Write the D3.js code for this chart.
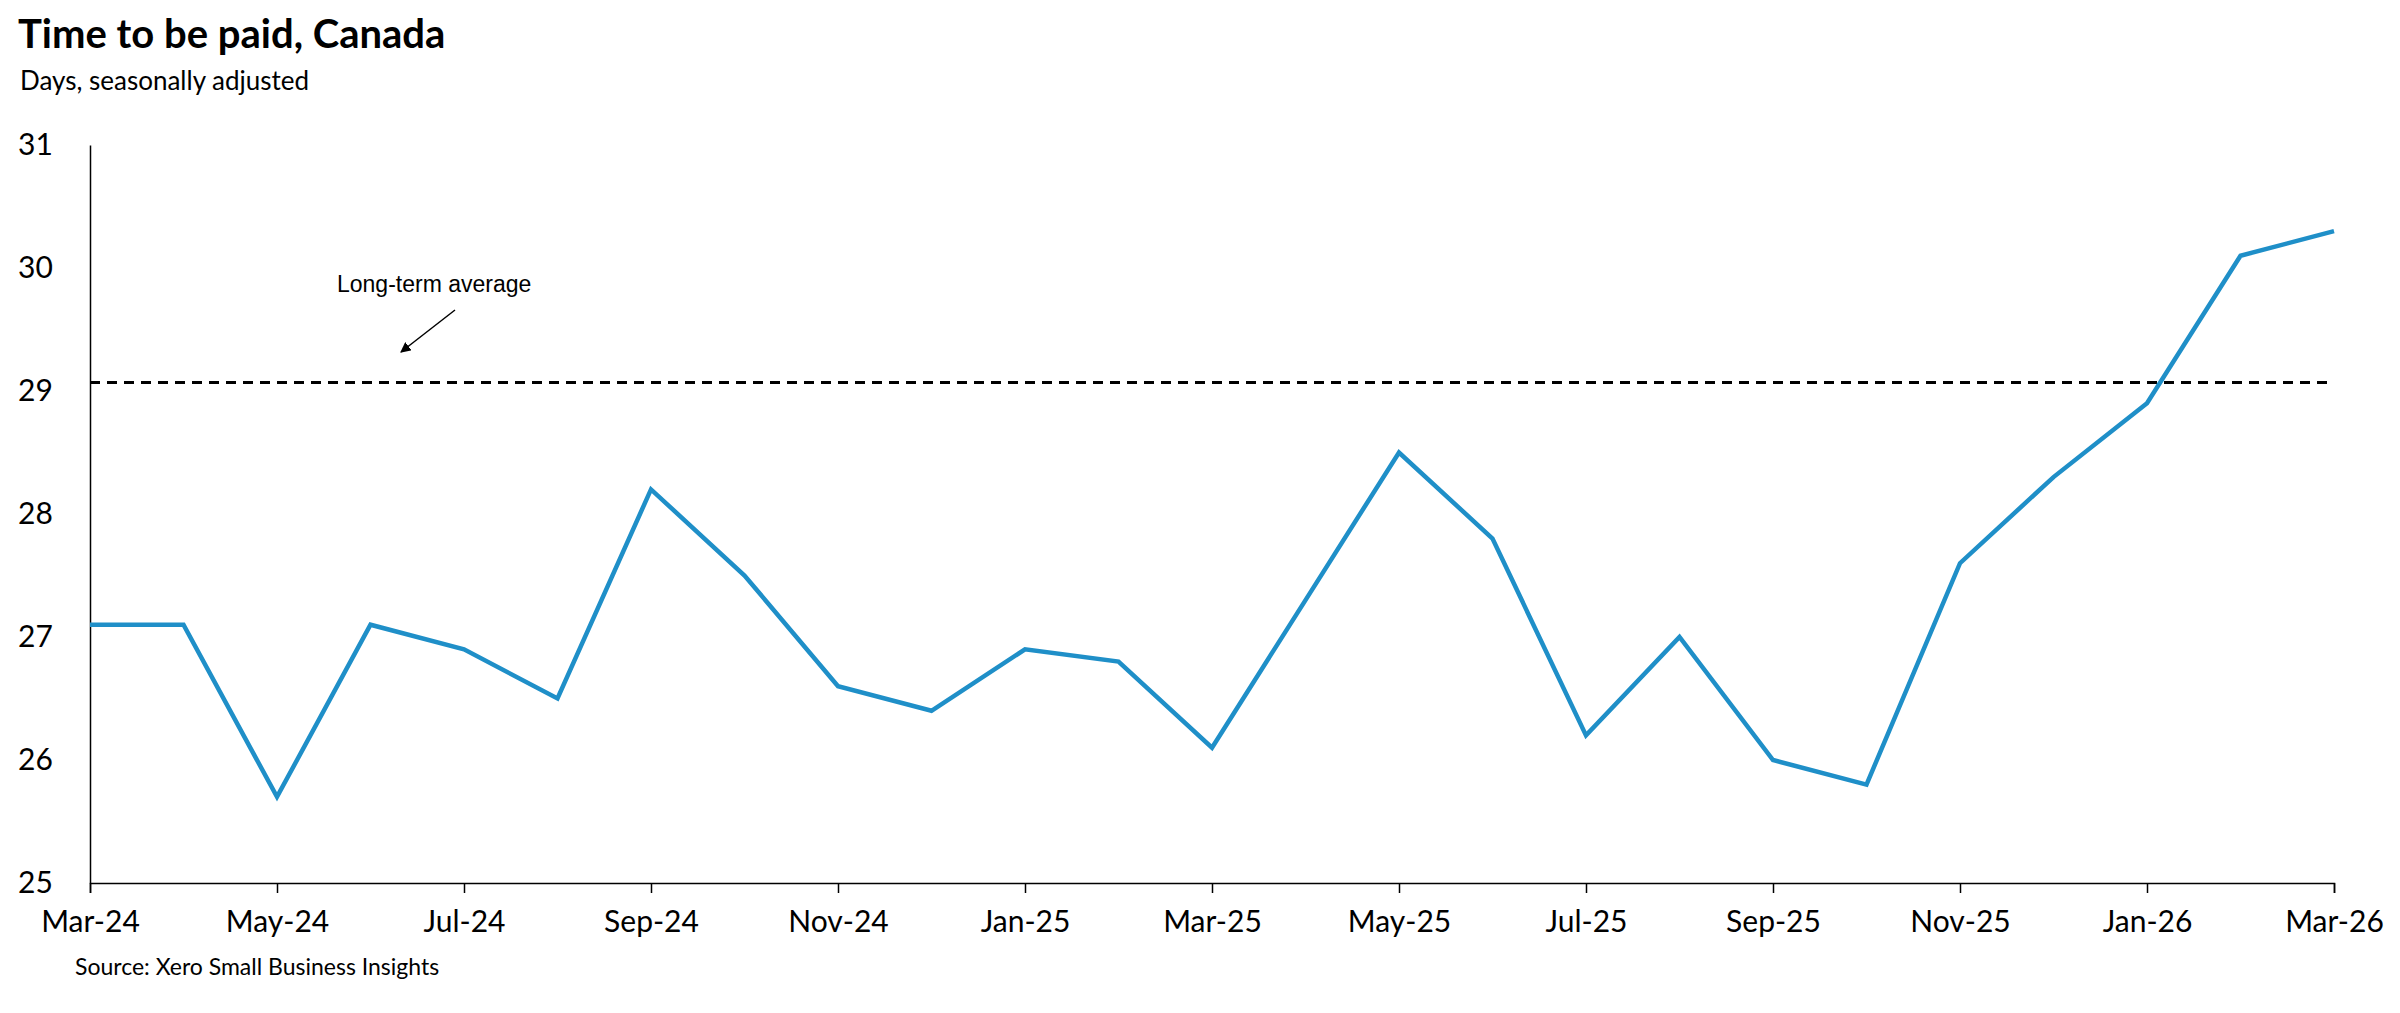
<!DOCTYPE html>
<html>
<head>
<meta charset="utf-8">
<script src="https://cdn.jsdelivr.net/npm/d3@7"></script>
<style>
  body { margin: 0; background: #fff; }
  text { fill: #000; }
</style>
</head>
<body>
<svg id="chart" width="2400" height="1013"></svg>
<script>
// monthly data, Mar-24 .. Mar-26
const months = ["Mar-24","Apr-24","May-24","Jun-24","Jul-24","Aug-24","Sep-24","Oct-24","Nov-24","Dec-24",
  "Jan-25","Feb-25","Mar-25","Apr-25","May-25","Jun-25","Jul-25","Aug-25","Sep-25","Oct-25",
  "Nov-25","Dec-25","Jan-26","Feb-26","Mar-26"];
const days = [27.1, 27.1, 25.7, 27.1, 26.9, 26.5, 28.2, 27.5, 26.6, 26.4,
  26.9, 26.8, 26.1, 27.3, 28.5, 27.8, 26.2, 27.0, 26.0, 25.8,
  27.6, 28.3, 28.9, 30.1, 30.3];
const longTermAvg = 29.07;
const yTicks = [25, 26, 27, 28, 29, 30, 31];

const svg = d3.select("#chart");
const m = {left: 90, right: 2334, top: 145, bottom: 883};

const x = d3.scalePoint().domain(months).range([m.left, m.right]);
const y = d3.scaleLinear().domain([25, 31]).range([m.bottom, m.top]);

svg.append("text").attr("x", 18).attr("y", 48)
  .style("font", "bold 40px Lato, 'Open Sans', sans-serif").text("Time to be paid, Canada");
svg.append("text").attr("x", 20).attr("y", 90)
  .style("font", "26px Lato, 'Open Sans', sans-serif").text("Days, seasonally adjusted");

// y axis
const yAxis = svg.append("g").attr("transform", `translate(${m.left},0)`)
  .call(d3.axisLeft(y).tickValues(yTicks).tickSize(0).tickFormat(d3.format("d")));
yAxis.select(".domain").attr("stroke", "#000").attr("stroke-width", 1.5);
yAxis.selectAll("text").attr("x", -72).attr("text-anchor", "start")
  .style("font", "30px Lato, 'Open Sans', sans-serif");

// x axis
const xAxis = svg.append("g").attr("transform", `translate(0,${m.bottom})`)
  .call(d3.axisBottom(x).tickValues(months.filter((d, i) => i % 2 === 0)).tickSize(10).tickPadding(18));
xAxis.select(".domain").attr("stroke", "#000").attr("stroke-width", 1.5);
xAxis.selectAll("line").attr("stroke", "#000").attr("stroke-width", 1.5);
xAxis.selectAll("text").style("font", "30px Lato, 'Open Sans', sans-serif");

// long-term average
svg.append("line")
  .attr("x1", m.left).attr("x2", m.right)
  .attr("y1", y(longTermAvg)).attr("y2", y(longTermAvg))
  .attr("stroke", "#000").attr("stroke-width", 3).attr("stroke-dasharray", "10,7");

svg.append("text").attr("x", 337).attr("y", 292)
  .style("font", "23px 'Liberation Sans', Arial, sans-serif").text("Long-term average");
svg.append("defs").append("marker").attr("id", "arr")
  .attr("viewBox", "0 0 10 10").attr("refX", 9).attr("refY", 5)
  .attr("markerWidth", 7).attr("markerHeight", 7).attr("orient", "auto")
  .append("path").attr("d", "M0,0L10,5L0,10z").attr("fill", "#000");
svg.append("line").attr("x1", 455).attr("y1", 310).attr("x2", 401).attr("y2", 352)
  .attr("stroke", "#000").attr("stroke-width", 1.5).attr("marker-end", "url(#arr)");

// series
svg.append("path").datum(days)
  .attr("fill", "none").attr("stroke", "#1f8fc8").attr("stroke-width", 4.5)
  .attr("stroke-linejoin", "miter")
  .attr("d", d3.line().x((d, i) => x(months[i])).y(d => y(d)));

svg.append("text").attr("x", 75).attr("y", 975)
  .style("font", "23px Lato, 'Open Sans', sans-serif").text("Source: Xero Small Business Insights");
</script>
</body>
</html>
